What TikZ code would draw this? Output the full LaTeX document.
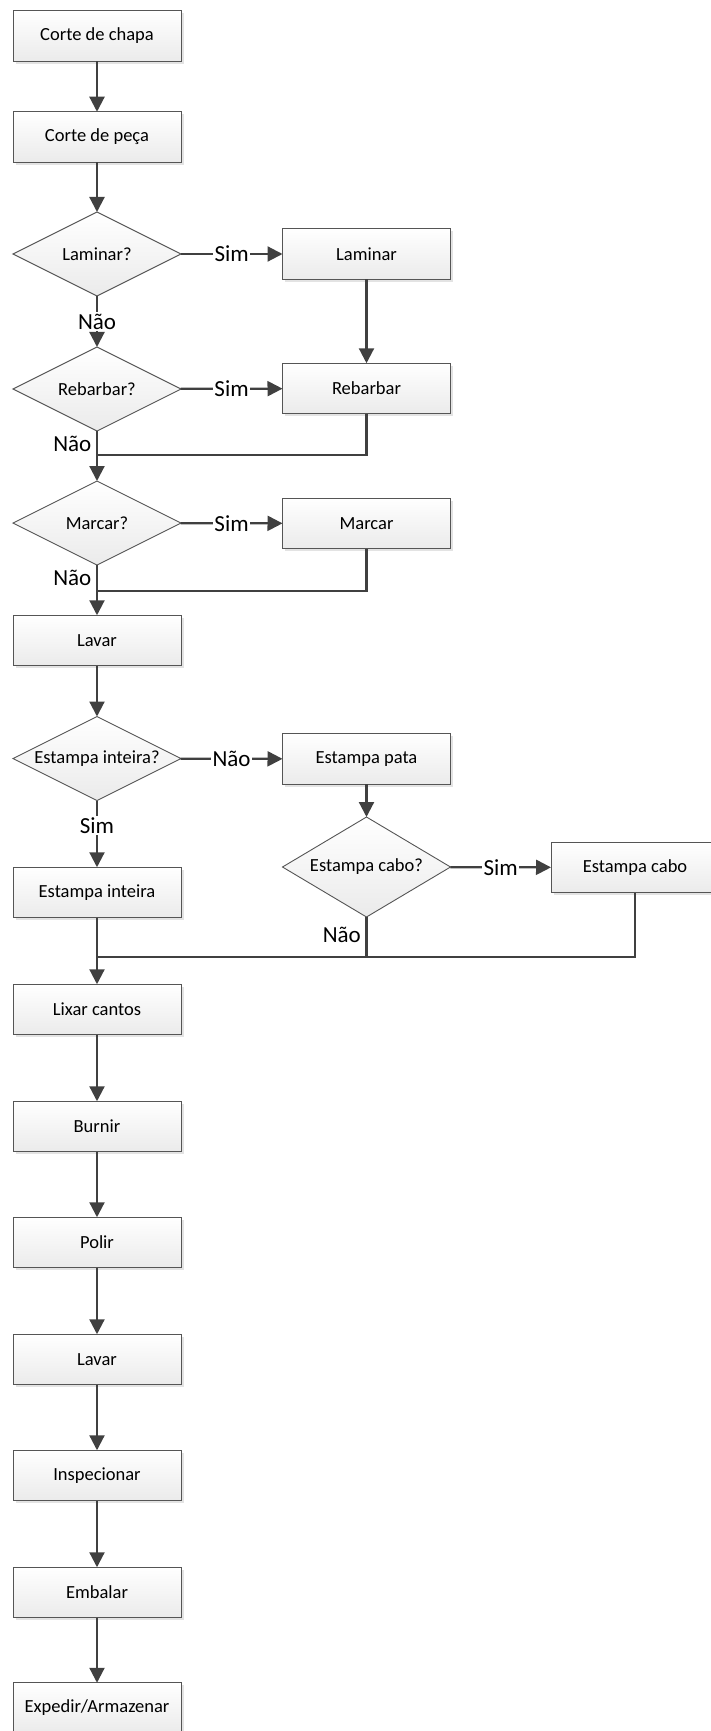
\documentclass[tikz,border=0pt]{standalone}
\usepackage{fontspec}
\setmainfont{Carlito}
\usetikzlibrary{shapes.geometric,arrows.meta,shadows}
\definecolor{linec}{HTML}{404040}
\definecolor{edgec}{HTML}{555555}
\tikzset{
  procbox/.style={rectangle, draw=edgec, line width=0.9pt, top color=white,
    bottom color=gray!16, minimum width=168pt, minimum height=50.5pt,
    inner sep=0pt, outer sep=0pt, font=\fontsize{18.5}{22}\selectfont,
    drop shadow={shadow xshift=2.5pt, shadow yshift=-2.5pt, opacity=0.22, fill=gray}},
  decision/.style={diamond, draw=edgec, line width=0.9pt, top color=white,
    bottom color=gray!16, minimum width=168pt, minimum height=84pt,
    inner sep=0pt, outer sep=0pt, font=\fontsize{18.5}{22}\selectfont},
  flow/.style={draw=linec, line width=2.2pt, -{Triangle[length=15pt,width=15pt]}},
  joinline/.style={draw=linec, line width=2.2pt},
  lbl/.style={fill=white, inner sep=1.5pt, font=\fontsize{23}{27}\selectfont},
  sidelbl/.style={inner sep=1.5pt, anchor=east, font=\fontsize{23}{27}\selectfont},
}
\newcommand{\dtext}[1]{\makebox[0pt]{#1}}
\begin{document}
\begin{tikzpicture}[x=1pt,y=-1pt]
\useasboundingbox (0,0) rectangle (710,1731);

% main column
\node[procbox] (chapa) at (97,36) {Corte de chapa};
\node[procbox] (peca) at (97,137) {Corte de peça};
\node[decision] (qlam) at (97,254) {\dtext{Laminar?}};
\node[decision] (qreb) at (97,389) {\dtext{Rebarbar?}};
\node[decision] (qmar) at (97,523) {\dtext{Marcar?}};
\node[procbox] (lavar) at (97,640.5) {Lavar};
\node[decision] (qest) at (97,758.5) {\dtext{Estampa inteira?}};
\node[procbox] (einteira) at (97,892.5) {Estampa inteira};
\node[procbox] (lixar) at (97,1009.5) {Lixar cantos};
\node[procbox] (burnir) at (97,1126.5) {Burnir};
\node[procbox] (polir) at (97,1242.5) {Polir};
\node[procbox] (lavar2) at (97,1359.5) {Lavar};
\node[procbox] (inspec) at (97,1475.5) {Inspecionar};
\node[procbox] (embalar) at (97,1592.5) {Embalar};
\node[procbox] (expedir) at (97,1708) {Expedir/Armazenar};

% side branches
\node[procbox] (laminar) at (366.5,254) {Laminar};
\node[procbox] (rebarbar) at (366.5,388.5) {Rebarbar};
\node[procbox] (marcar) at (366.5,523.5) {Marcar};
\node[procbox] (epata) at (366.5,759) {Estampa pata};
\node[decision, minimum height=100pt] (qcabo) at (366.5,867) {\dtext{Estampa cabo?}};
\node[procbox] (ecabo) at (635,867.5) {Estampa cabo};

% junction points
\coordinate (j1) at (97,455);
\coordinate (j2) at (97,591);
\coordinate (j3) at (97,957);

% straight flow
\draw[flow] (chapa) -- (peca);
\draw[flow] (peca) -- (qlam);
\draw[flow] (lavar) -- (qest);
\draw[flow] (einteira) -- (lixar);
\draw[flow] (lixar) -- (burnir);
\draw[flow] (burnir) -- (polir);
\draw[flow] (polir) -- (lavar2);
\draw[flow] (lavar2) -- (inspec);
\draw[flow] (inspec) -- (embalar);
\draw[flow] (embalar) -- (expedir);

% decisions
\draw[flow] (qlam) -- node[lbl] {Sim} (laminar);
\draw[flow] (qlam) -- node[lbl] {Não} (qreb);
\draw[flow] (laminar) -- (rebarbar);
\draw[flow] (qreb) -- node[lbl] {Sim} (rebarbar);
\draw[flow] (qreb) -- (qmar);
\node[sidelbl] (nreb) at (93,444) {Não};
\draw[joinline] (rebarbar.south) |- (j1);
\draw[flow] (qmar) -- node[lbl] {Sim} (marcar);
\draw[flow] (qmar) -- (lavar);
\node[sidelbl] (nmar) at (93,578) {Não};
\draw[joinline] (marcar.south) |- (j2);
\draw[flow] (qest) -- node[lbl] {Não} (epata);
\draw[flow] (qest) -- node[lbl, pos=0.37] {Sim} (einteira);
\draw[flow] (epata) -- (qcabo);
\draw[flow] (qcabo) -- node[lbl] {Sim} (ecabo);
\draw[joinline] (qcabo.south) |- (j3);
\node[sidelbl] (ncabo) at (362.5,935) {Não};
\draw[joinline] (ecabo.south) |- (j3);
\end{tikzpicture}
\end{document}
